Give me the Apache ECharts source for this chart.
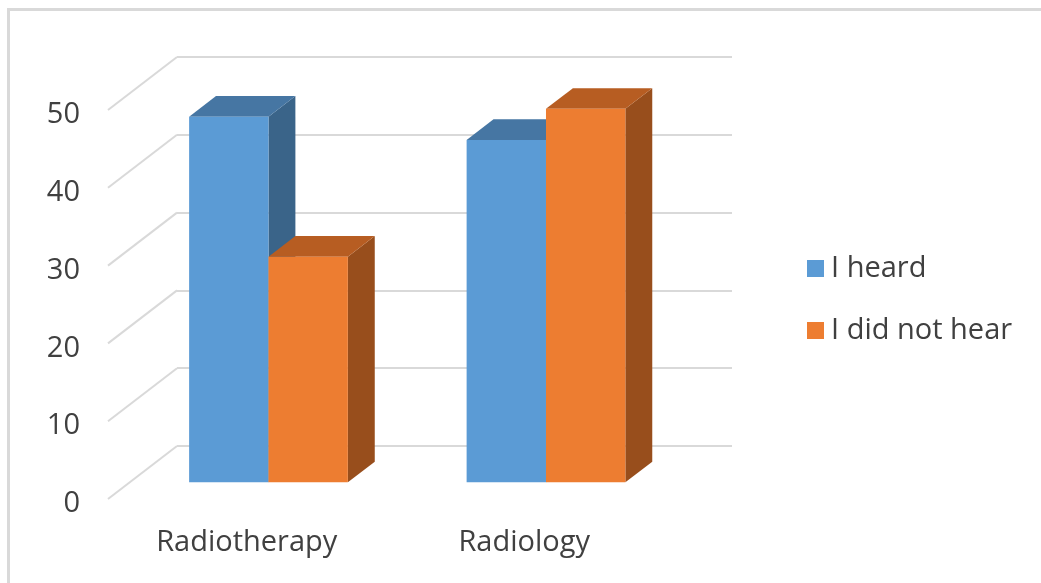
<!DOCTYPE html>
<html>
<head>
<meta charset="utf-8">
<script src="https://cdn.jsdelivr.net/npm/echarts@6/dist/echarts.min.js"></script>
<style>
  html, body { margin: 0; padding: 0; background: #ffffff; }
  #chart { width: 1041px; height: 583px; }
</style>
</head>
<body>
<div id="chart"></div>
<script>
// Awareness by field of study
const categories = ['Radiotherapy', 'Radiology'];
const heardValues = [47, 44];
const notHeardValues = [29, 48];
const seriesNames = ['I heard', 'I did not hear'];
const yTicks = [0, 10, 20, 30, 40, 50];

// Pseudo-3D layout: floor depth vector and where the bars sit along it
const DEPTH = { dx: 69, dy: -53 };
const BAR_FRONT = 0.315;
const BAR_BACK = 0.705;
const BAR_SHARE = 0.286; // bar width as share of the category band

const FACE_COLORS = [
  { front: '#5B9BD5', top: '#4676a3', side: '#3a6489' },
  { front: '#ED7D31', top: '#b75d22', side: '#984e1c' }
];

const FONT = '"Open Sans", Lato, sans-serif';
const FONT_SIZE = 29;
const TEXT_COLOR = '#404040';
const GRID_COLOR = '#d9d9d9';

const chart = echarts.init(document.getElementById('chart'), null, { renderer: 'canvas' });

function barRenderer(seriesIdx) {
  return function (params, api) {
    const cat = api.value(0);
    const v = api.value(1);
    const base = api.coord([cat, 0]);
    const top = api.coord([cat, v]);
    const bw = api.size([1, 0])[0] * BAR_SHARE;
    const fx = DEPTH.dx * BAR_FRONT, fy = DEPTH.dy * BAR_FRONT;
    const bx = DEPTH.dx * (BAR_BACK - BAR_FRONT), by = DEPTH.dy * (BAR_BACK - BAR_FRONT);
    const x0 = base[0] + fx + (seriesIdx === 0 ? -bw : 0);
    const x1 = x0 + bw;
    const yb = base[1] + fy;
    const yt = top[1] + fy;
    const c = FACE_COLORS[seriesIdx];
    return {
      type: 'group',
      children: [
        {
          type: 'polygon',
          shape: { points: [[x1, yb], [x1 + bx, yb + by], [x1 + bx, yt + by], [x1, yt]] },
          style: { fill: c.side }
        },
        {
          type: 'polygon',
          shape: { points: [[x0, yt], [x1, yt], [x1 + bx, yt + by], [x0 + bx, yt + by]] },
          style: { fill: c.top }
        },
        {
          type: 'rect',
          shape: { x: x0, y: yt, width: bw, height: yb - yt },
          style: { fill: c.front }
        }
      ]
    };
  };
}

const option = {
  backgroundColor: '#ffffff',
  animation: false,
  graphic: [
    {
      type: 'rect',
      shape: { x: 8.5, y: 9.5, width: 1200, height: 800 },
      style: { fill: 'none', stroke: GRID_COLOR, lineWidth: 3 },
      silent: true,
      z: -10
    }
  ],
  legend: {
    orient: 'vertical',
    left: 807,
    top: 254,
    padding: 0,
    itemWidth: 17,
    itemHeight: 17,
    itemGap: 33,
    icon: 'rect',
    data: seriesNames,
    textStyle: {
      fontFamily: FONT,
      fontSize: FONT_SIZE,
      color: TEXT_COLOR,
      padding: [0, 0, 0, 2]
    }
  },
  grid: [
    // front plane (floor front edge)
    { left: 108, right: 378, top: 110, bottom: 84 },
    // back wall
    { left: 177, right: 309, top: 57, bottom: 137 },
    // value labels, set a touch below the front edge ticks
    { left: 108, right: 378, top: 115, bottom: 79 }
  ],
  xAxis: [
    {
      type: 'category',
      gridIndex: 0,
      data: categories,
      axisLine: { show: false },
      axisTick: { show: false },
      splitLine: { show: false },
      axisLabel: {
        fontFamily: FONT,
        fontSize: FONT_SIZE,
        color: TEXT_COLOR,
        margin: 29
      }
    },
    {
      type: 'category',
      gridIndex: 1,
      data: categories,
      show: false
    },
    {
      type: 'category',
      gridIndex: 2,
      data: categories,
      show: false
    }
  ],
  yAxis: [
    {
      type: 'value',
      gridIndex: 0,
      min: 0,
      max: 50,
      interval: 10,
      axisLine: { show: false },
      axisTick: { show: false },
      splitLine: { show: false },
      axisLabel: { show: false }
    },
    {
      type: 'value',
      gridIndex: 1,
      min: 0,
      max: 50,
      interval: 10,
      axisLine: { show: false },
      axisTick: { show: false },
      axisLabel: { show: false },
      splitLine: { show: true, lineStyle: { color: GRID_COLOR, width: 2 } }
    },
    {
      type: 'value',
      gridIndex: 2,
      min: 0,
      max: 50,
      interval: 10,
      axisLine: { show: false },
      axisTick: { show: false },
      splitLine: { show: false },
      axisLabel: {
        fontFamily: FONT,
        fontSize: FONT_SIZE,
        color: TEXT_COLOR,
        margin: 28
      }
    }
  ],
  series: [
    {
      // side-wall gridlines running from the front edge to the back wall
      type: 'custom',
      name: 'depth-lines',
      xAxisIndex: 0,
      yAxisIndex: 0,
      silent: true,
      z: 1,
      data: yTicks.map(function (t) { return [0, t]; }),
      encode: { x: 0, y: 1 },
      renderItem: function (params, api) {
        const p = api.coord([0, api.value(1)]);
        const x = params.coordSys.x;
        return {
          type: 'line',
          shape: { x1: x, y1: p[1], x2: x + DEPTH.dx, y2: p[1] + DEPTH.dy },
          style: { stroke: GRID_COLOR, lineWidth: 2 }
        };
      }
    },
    {
      type: 'custom',
      name: seriesNames[0],
      xAxisIndex: 0,
      yAxisIndex: 0,
      z: 3,
      itemStyle: { color: FACE_COLORS[0].front },
      data: heardValues.map(function (v, i) { return [i, v]; }),
      encode: { x: 0, y: 1 },
      renderItem: barRenderer(0)
    },
    {
      type: 'custom',
      name: seriesNames[1],
      xAxisIndex: 0,
      yAxisIndex: 0,
      z: 4,
      itemStyle: { color: FACE_COLORS[1].front },
      data: notHeardValues.map(function (v, i) { return [i, v]; }),
      encode: { x: 0, y: 1 },
      renderItem: barRenderer(1)
    }
  ]
};

chart.setOption(option);
</script>
</body>
</html>
